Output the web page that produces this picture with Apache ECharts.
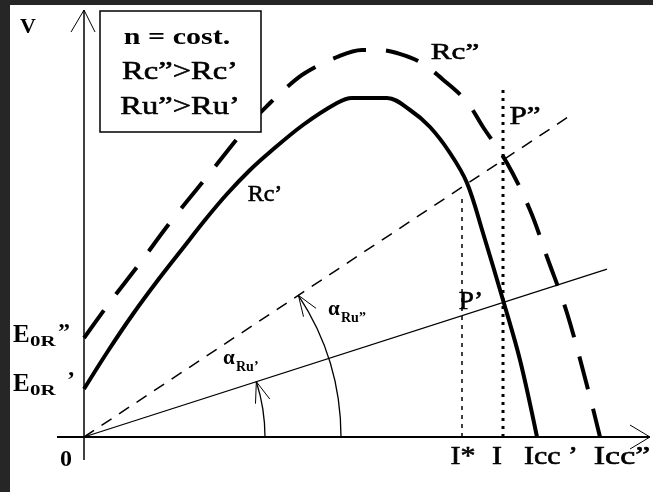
<!DOCTYPE html>
<html>
<head>
<meta charset="utf-8">
<title>Caratteristica esterna V–I</title>
<script src="https://cdn.jsdelivr.net/npm/echarts@6/dist/echarts.min.js"></script>
<style>
  html, body { margin: 0; padding: 0; background: #262626; }
  #chart { width: 653px; height: 492px; }
</style>
</head>
<body>
<div id="chart"></div>
<script>
// External characteristics V(I) of the generator for two field resistances
// (Rc' solid, Rc" dashed) and the two load lines Ru', Ru".
const rcPrime = [
  [0, 48], [24, 86], [49, 123], [74, 157], [99, 189], [121, 217], [143, 243],
  [166, 267], [186, 285], [219, 312], [253, 334], [268, 339], [303, 339],
  [326, 327], [346, 310], [366, 284], [383, 254], [399, 204], [419, 137],
  [436, 77], [453, 0]
];
const rcSecond = [
  [0, 99], [26, 135], [53, 170], [88, 217], [126, 264], [163, 310], [186, 334],
  [203, 350], [221, 364], [253, 380], [278, 387], [296, 387], [313, 384],
  [336, 375], [363, 354], [383, 335], [399, 310], [423, 274], [446, 227],
  [463, 180], [483, 124], [506, 40], [516, 0]
];
// load lines V = I * tan(alpha)
const ruPrimeSlope = 0.321;
const ruSecondSlope = 0.661;
const ruPrimeEnd = 523;
const ruSecondEnd = 484;
// operating currents
const currentI = 419;
const currentIStar = 378;
const currentITop = 347;
const currentIStarTop = 240;
// angle arcs: radius, slope of the load line they reach
const angleArcs = [[181, ruPrimeSlope], [257, ruSecondSlope]];
// axis extent
const xRange = [-27, 566];
const yRange = [-23, 427];

const chart = echarts.init(document.getElementById('chart'), null, { renderer: 'canvas' });

function seg(points, width, dash, z) {
  return {
    type: 'line', data: points, showSymbol: false, symbol: 'none', silent: true,
    clip: false, z: z || 3, animation: false,
    lineStyle: { color: '#000', width: width, type: dash || 'solid', cap: 'butt' }
  };
}

const series = [
  // axes
  seg([[xRange[0], 0], [xRange[1], 0]], 2),
  seg([[0, yRange[0]], [0, yRange[1]]], 1.5),
  seg([[xRange[1] - 20, 12], [xRange[1], 0], [xRange[1] - 20, -12]], 1),
  seg([[-13, yRange[1] - 22], [0, yRange[1]], [11, yRange[1] - 22]], 1),
  // load lines
  seg([[0, 0], [ruPrimeEnd, ruPrimeEnd * ruPrimeSlope]], 1.3),
  seg([[0, 0], [ruSecondEnd, ruSecondEnd * ruSecondSlope]], 1.5, [12, 9]),
  // currents
  seg([[currentIStar, 0], [currentIStar, currentIStarTop]], 1.5, [4, 5]),
  seg([[currentI, 0], [currentI, currentITop]], 3, [3, 5]),
  // characteristics
  Object.assign(seg(rcPrime, 4, 'solid', 5), { smooth: 0.35 }),
  Object.assign(seg(rcSecond, 4, [34, 20], 5), { smooth: 0.35 }),
  {
    type: 'custom', data: angleArcs, clip: false, silent: true, animation: false, z: 4,
    renderItem: function (params, api) {
      const r = api.value(0), slope = api.value(1);
      const c = api.coord([0, 0]);
      const rp = api.size([r, 0])[0];
      const q = api.coord([100, 100 * slope]);
      const th = Math.atan2(c[1] - q[1], q[0] - c[0]);
      const tip = [c[0] + rp * Math.cos(th), c[1] - rp * Math.sin(th)];
      const back = [Math.sin(th), Math.cos(th)];
      const L = 22, phi = 20 * Math.PI / 180;
      const rot = function (v, a) {
        return [v[0] * Math.cos(a) - v[1] * Math.sin(a), v[0] * Math.sin(a) + v[1] * Math.cos(a)];
      };
      const b1 = rot(back, phi), b2 = rot(back, -phi);
      return {
        type: 'group',
        children: [
          { type: 'arc', shape: { cx: c[0], cy: c[1], r: rp, startAngle: -th, endAngle: 0, clockwise: true },
            style: { stroke: '#000', fill: null, lineWidth: 1.3 } },
          { type: 'polyline', shape: { points: [
              [tip[0] + L * b1[0], tip[1] + L * b1[1]], tip, [tip[0] + L * b2[0], tip[1] + L * b2[1]]] },
            style: { stroke: '#000', fill: null, lineWidth: 1 } }
        ]
      };
    }
  }
];

chart.setOption({
  backgroundColor: '#262626',
  animation: false,
  grid: { left: 57, top: 10, width: 593, height: 450, containLabel: false },
  xAxis: { type: 'value', min: xRange[0], max: xRange[1], show: false },
  yAxis: { type: 'value', min: yRange[0], max: yRange[1], show: false },
  series: series
});

// text annotations anchored in chart coordinates
const SERIF = '"Liberation Serif", "Times New Roman", serif';
const labels = [
  { t: 'V', at: [-56, 410], size: 22, bold: true },
  { t: 'n = cost.', at: [93, 399], size: 24, bold: true, sx: 1.25 },
  { t: 'Rc\u201D>Rc\u2019', at: [96, 365], size: 26, sx: 1.25 },
  { t: 'Ru\u201D>Ru\u2019', at: [96, 330], size: 26, sx: 1.25 },
  { t: 'Rc\u2019', at: [181, 242], size: 24 },
  { t: 'Rc\u201D', at: [371, 384], size: 24, sx: 1.3 },
  { t: 'P\u201D', at: [441, 320], size: 26, sx: 1.2 },
  { t: 'P\u2019', at: [387, 135], size: 26, sx: 1.05 },
  { t: 'E', at: [-71, 101], size: 25, bold: true, align: 'left' },
  { t: '0R', at: [-54, 95], size: 15, bold: true, align: 'left', sx: 1.4 },
  { t: '\u201D', at: [-26, 104], size: 24, bold: true, align: 'left' },
  { t: 'E', at: [-71, 52], size: 25, bold: true, align: 'left' },
  { t: '0R', at: [-54, 46], size: 15, bold: true, align: 'left', sx: 1.4 },
  { t: '\u2019', at: [-17, 56], size: 24, bold: true, align: 'left' },
  { t: '0', at: [-18, -23], size: 24, bold: true },
  { t: 'I*', at: [379, -20], size: 26, sx: 1.15 },
  { t: 'I', at: [413, -20], size: 26, sx: 1.15 },
  { t: 'Icc \u2019', at: [467, -20], size: 26, sx: 1.15 },
  { t: 'Icc\u201D', at: [538, -20], size: 26, sx: 1.3 },
  { t: '\u03B1', at: [139, 78], size: 21, bold: true, align: 'left' },
  { t: 'Ru\u2019', at: [152, 70], size: 14, bold: true, align: 'left' },
  { t: '\u03B1', at: [244, 127], size: 21, bold: true, align: 'left' },
  { t: 'Ru\u201D', at: [257, 119], size: 14, bold: true, align: 'left' }
];

const toPx = function (p) { return chart.convertToPixel({ gridIndex: 0 }, p); };
const boxA = toPx([16, 426]), boxB = toPx([177, 305]);

const graphic = [
  { type: 'rect', z: -100, silent: true, shape: { x: 10, y: 5, width: 643, height: 487 }, style: { fill: '#fff' } },
  { type: 'rect', z: 100, silent: true,
    shape: { x: boxA[0], y: boxA[1], width: boxB[0] - boxA[0], height: boxB[1] - boxA[1] },
    style: { fill: '#fff', stroke: '#000', lineWidth: 1.5 } }
];
labels.forEach(function (l) {
  const p = toPx(l.at);
  graphic.push({
    type: 'text', z: 101, silent: true, x: p[0], y: p[1], scaleX: l.sx || 1,
    style: {
      text: l.t, fill: '#000', fontFamily: SERIF, fontSize: l.size,
      fontWeight: l.bold ? 'bold' : 'normal',
      stroke: '#000', lineWidth: l.bold ? 0 : 0.6,
      align: l.align || 'center', verticalAlign: 'middle'
    }
  });
});
chart.setOption({ graphic: graphic });
</script>
</body>
</html>
